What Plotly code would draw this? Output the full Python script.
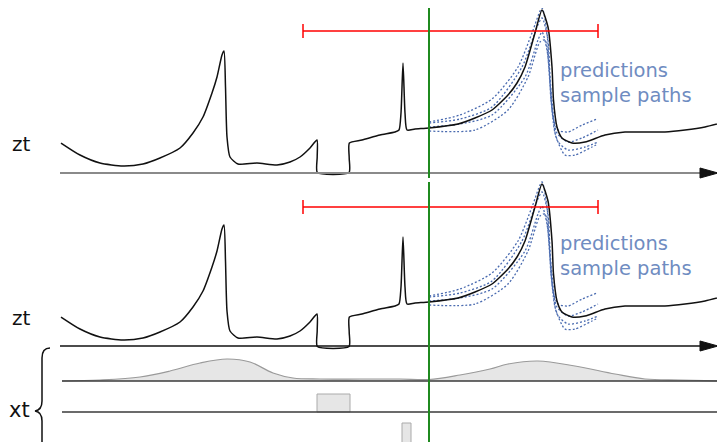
import plotly.graph_objects as go

W, H = 725, 442
OFF = 8  # page body margin of the html page

# ---------------- data ----------------
# observed / target series z_t (time, level above the time axis)
time_main = [61, 80, 100, 123, 143, 160, 180, 193, 203, 212, 217, 222, 224, 225.5, 227, 230, 238, 257, 277,
             290, 300, 310, 317, 317.2, 317.4, 349, 349.2, 349.4, 362, 380, 395, 399, 401, 403, 405, 407, 415, 429,
             458, 475, 492, 508, 517, 525, 535, 542, 548, 552, 553.5, 557, 562, 572, 585, 605,
             625, 645, 665, 685, 705, 725]
level_main = [30, 18, 10, 7, 9, 15, 25, 40, 56, 80, 96, 118, 122, 86, 36, 16, 9, 10, 8,
              11, 16, 25, 33, 16, 0.5, 0.5, 15, 30, 33, 38, 41, 43, 60, 110, 60, 43, 44, 45,
              49, 55, 63, 78, 90, 106, 140, 163, 146, 106, 73, 46, 35, 30, 31, 38,
              41, 41, 41, 43, 46, 51]

# prediction sample paths
path1_t = [429, 460, 492, 518, 532, 542, 547, 550, 553, 558, 568, 582, 597]
path1_z = [51, 58, 74, 106, 140, 165, 140, 90, 56, 43, 41, 48, 54]
path2_t = [429, 460, 492, 522, 537, 542, 548, 551, 557, 568, 582, 598]
path2_z = [50, 54, 66, 106, 146, 155, 133, 73, 40, 31, 35, 43]
path3_t = [429, 460, 492, 525, 538, 542, 547, 552, 557, 568, 585, 598]
path3_z = [46, 49, 58, 96, 133, 141, 123, 73, 33, 23, 26, 31]
path4_t = [429, 475, 508, 528, 540, 545, 550, 555, 565, 575, 592, 598]
path4_z = [42, 43, 63, 96, 131, 133, 90, 40, 18, 18, 26, 29]
sample_paths = [(path1_t, path1_z), (path2_t, path2_z), (path3_t, path3_z), (path4_t, path4_z)]

# covariate x_t row 1 (smooth seasonal bumps)
cov1_t = [62, 100, 140, 170, 200, 227, 250, 273, 293, 320, 360, 400, 429, 460, 490, 508, 538, 575,
          615, 645, 680, 720]
cov1_v = [0, 1, 4, 10, 18, 22, 19, 8, 3, 2, 2, 2, 1.5, 6, 12, 17, 20, 15, 7, 2, 1, 0]
# covariate rows 2 and 3 (event windows)
cov2_start, cov2_end, cov2_height = 317, 350, 18
cov3_start, cov3_end, cov3_height = 402, 411, 27

# time markers
forecast_start = 429
window_start, window_end = 303, 598
axis_start, axis_end = 60, 718
row_start, row_end = 62, 720

labels_pred = "predictions<br>sample paths"

# ---------------- figure ----------------
BLACK = "#111111"
BLUE_TXT = "#6f8cc1"
BLUE_DOT = "#4a6bb0"
RED = "#ff0000"
GREEN = "#1f8a1f"

fig = go.Figure()

for yax in ["y", "y2"]:
    for t, z in sample_paths:
        fig.add_trace(go.Scatter(x=t, y=z, yaxis=yax, mode="lines",
                                 line=dict(color=BLUE_DOT, width=1.3, dash="2px,2px", shape="spline", smoothing=0.7),
                                 hoverinfo="skip", showlegend=False))
    fig.add_trace(go.Scatter(x=time_main, y=level_main, yaxis=yax, mode="lines",
                             line=dict(color=BLACK, width=1.5, shape="spline", smoothing=0.6),
                             hoverinfo="skip", showlegend=False))

fig.add_trace(go.Scatter(x=cov1_t, y=cov1_v, yaxis="y3", mode="lines", fill="tozeroy",
                         fillcolor="#e6e6e6", line=dict(color="#9a9a9a", width=1.2, shape="spline"),
                         hoverinfo="skip", showlegend=False))
fig.add_trace(go.Bar(x=[(cov2_start + cov2_end) / 2], y=[cov2_height], width=[cov2_end - cov2_start],
                     yaxis="y4", marker=dict(color="#e6e6e6", line=dict(color="#aaaaaa", width=1)),
                     hoverinfo="skip", showlegend=False))
fig.add_trace(go.Bar(x=[(cov3_start + cov3_end) / 2], y=[cov3_height], width=[cov3_end - cov3_start],
                     yaxis="y5", marker=dict(color="#e6e6e6", line=dict(color="#aaaaaa", width=1)),
                     hoverinfo="skip", showlegend=False))


def py(px):
    return 1 - (px - OFF) / (H - OFF)


def pxx(px):
    return (px - OFF) / (W - OFF)


shapes = []
# time axes
shapes.append(dict(type="line", xref="x", yref="y", x0=axis_start, x1=702, y0=0, y1=0,
                   line=dict(color="#8a8a8a", width=2)))
shapes.append(dict(type="path", xref="x", yref="y",
                   path=f"M 700 5 L {axis_end} 0 L 700 -5 Z", fillcolor=BLACK, line=dict(color=BLACK, width=1)))
shapes.append(dict(type="line", xref="x", yref="y2", x0=axis_start, x1=702, y0=1, y1=1,
                   line=dict(color=BLACK, width=1.5)))
shapes.append(dict(type="path", xref="x", yref="y2",
                   path=f"M 700 6 L {axis_end} 1 L 700 -4 Z", fillcolor=BLACK, line=dict(color=BLACK, width=1)))
# covariate baselines
shapes.append(dict(type="line", xref="x", yref="y3", x0=row_start, x1=row_end, y0=0, y1=0,
                   line=dict(color="#3a3a3a", width=1.5)))
shapes.append(dict(type="line", xref="x", yref="y4", x0=row_start, x1=row_end, y0=0, y1=0,
                   line=dict(color="#3a3a3a", width=1.5)))
# red windows
for yref, yv in [("y", 142), ("y2", 140)]:
    shapes.append(dict(type="line", xref="x", yref=yref, x0=window_start, x1=window_end, y0=yv, y1=yv,
                       line=dict(color=RED, width=1.5)))
    for xv in [window_start, window_end, forecast_start]:
        h = 7 if xv != forecast_start else 5
        shapes.append(dict(type="line", xref="x", yref=yref, x0=xv, x1=xv, y0=yv - h, y1=yv + h,
                           line=dict(color=RED, width=1.5)))
# green forecast start line
shapes.append(dict(type="line", xref="x", yref="paper", x0=forecast_start, x1=forecast_start,
                   y0=py(178), y1=py(8), line=dict(color=GREEN, width=2)))
shapes.append(dict(type="line", xref="x", yref="paper", x0=forecast_start, x1=forecast_start,
                   y0=py(442), y1=py(182), line=dict(color=GREEN, width=2)))
# brace
bp = (f"M 50 {py(348)} Q 42 {py(348)} 42 {py(358)} L 42 {py(401)} "
      f"Q 42 {py(410)} 35 {py(411)} Q 42 {py(412)} 42 {py(421)} L 42 {py(452)}")
shapes.append(dict(type="path", xref="x", yref="paper", path=bp, line=dict(color=BLACK, width=1.5)))

annotations = [
    dict(x=pxx(10), y=py(144), xref="paper", yref="paper", text="zt", showarrow=False, xanchor="left",
         yanchor="middle", font=dict(size=20, color=BLACK)),
    dict(x=pxx(10), y=py(318), xref="paper", yref="paper", text="zt", showarrow=False, xanchor="left",
         yanchor="middle", font=dict(size=20, color=BLACK)),
    dict(x=pxx(7), y=py(410), xref="paper", yref="paper", text="xt", showarrow=False, xanchor="left",
         yanchor="middle", font=dict(size=21, color=BLACK)),
    dict(x=pxx(558), y=py(83), xref="paper", yref="paper", text=labels_pred, showarrow=False, xanchor="left",
         yanchor="middle", align="left", font=dict(size=19.5, color=BLUE_TXT)),
    dict(x=pxx(558), y=py(256), xref="paper", yref="paper", text=labels_pred, showarrow=False, xanchor="left",
         yanchor="middle", align="left", font=dict(size=19.5, color=BLUE_TXT)),
]

hidden = dict(visible=False, fixedrange=True)
fig.update_layout(
    width=W - OFF, height=H - OFF, margin=dict(l=0, r=0, t=0, b=0),
    paper_bgcolor="white", plot_bgcolor="white",
    font=dict(family="DejaVu Sans"),
    barmode="overlay", showlegend=False,
    xaxis=dict(range=[OFF, W], domain=[0, 1], **hidden),
    yaxis=dict(range=[173 - H, 173 - OFF], domain=[0, 1], **hidden),
    yaxis2=dict(range=[347 - H, 347 - OFF], overlaying="y", **hidden),
    yaxis3=dict(range=[381 - H, 381 - OFF], overlaying="y", **hidden),
    yaxis4=dict(range=[412 - H, 412 - OFF], overlaying="y", **hidden),
    yaxis5=dict(range=[450 - H, 450 - OFF], overlaying="y", **hidden),
    shapes=shapes, annotations=annotations,
)

fig.write_html("out.html")
